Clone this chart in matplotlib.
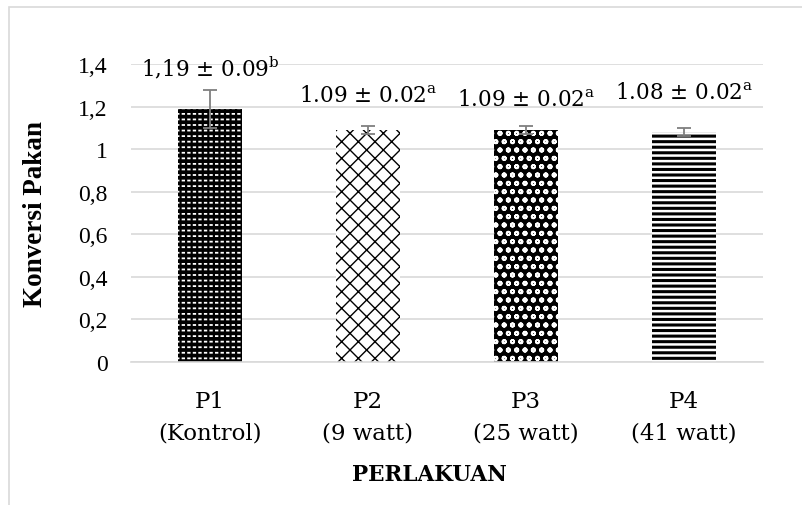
import matplotlib
matplotlib.use('Agg')
import matplotlib.pyplot as plt
from matplotlib.patches import Rectangle

# data
perlakuan = ['P1\n(Kontrol)', 'P2\n(9 watt)', 'P3\n(25 watt)', 'P4\n(41 watt)']
konversi = [1.19, 1.09, 1.09, 1.08]
sd = [0.09, 0.02, 0.02, 0.02]
label_nilai = ['1,19 ± 0.09$^{\\rm b}$', '1.09 ± 0.02$^{\\rm a}$',
               '1.09 ± 0.02$^{\\rm a}$', '1.08 ± 0.02$^{\\rm a}$']
yticks = [0, 0.2, 0.4, 0.6, 0.8, 1.0, 1.2, 1.4]
ytick_labels = ['0', '0,2', '0,4', '0,6', '0,8', '1', '1,2', '1,4']

plt.rcParams['mathtext.fontset'] = 'custom'
plt.rcParams['mathtext.rm'] = 'DejaVu Serif'

fig = plt.figure(figsize=(8.02, 5.06), dpi=100)
ax = fig.add_axes([131 / 802, 1 - 363 / 506, 632 / 802, 298 / 506])

# bingkai abu-abu
fig.patches.append(Rectangle((9 / 802, -0.1), 1.2, 1 - 8 / 506 + 0.1, transform=fig.transFigure,
                             fill=False, edgecolor='#d9d9d9', linewidth=1.2))

x = range(len(perlakuan))
lebar = 0.405

# P1: hitam dengan garis putus putih
with plt.rc_context({'hatch.linewidth': 1.3}):
    ax.bar(0, konversi[0], width=lebar, color='black', edgecolor='white', hatch='---', linewidth=0, zorder=2)
with plt.rc_context({'hatch.linewidth': 1.6}):
    ax.bar(0, konversi[0], width=lebar, color='none', edgecolor='black', hatch='|||', linewidth=0, zorder=2)
# P2: pola sisik
with plt.rc_context({'hatch.linewidth': 1.0}):
    ax.bar(1, konversi[1], width=lebar, color='white', edgecolor='black', hatch='xx', linewidth=0, zorder=2)
# P3: kotak-kotak bulat
with plt.rc_context({'hatch.linewidth': 1.3}):
    ax.bar(2, konversi[2], width=lebar, color='black', edgecolor='white', hatch='oo', linewidth=0, zorder=2)
# P4: garis mendatar
with plt.rc_context({'hatch.linewidth': 2.2}):
    ax.bar(3, konversi[3], width=lebar, color='white', edgecolor='black', hatch='---', linewidth=0, zorder=2)

for i in x:
    ax.errorbar(i, konversi[i], yerr=sd[i], fmt='none', ecolor='#7f7f7f',
                elinewidth=1.3, capsize=5, capthick=1.3, zorder=3)

offset = [0.196, 0.164, 0.145, 0.188]
for i in x:
    ax.text(i, konversi[i] + offset[i], label_nilai[i], ha='center', va='center',
            fontsize=15.5, family='DejaVu Serif')

ax.set_xlim(-0.5, 3.5)
ax.set_ylim(0, 1.4)
ax.set_yticks(yticks)
ax.set_yticklabels(ytick_labels, family='Liberation Serif', fontsize=17)
ax.set_xticks(list(x))
ax.set_xticklabels(perlakuan, family='DejaVu Serif', fontsize=16.5, linespacing=1.55)
ax.tick_params(axis='x', length=0, pad=20)
ax.tick_params(axis='y', length=0, pad=17)
ax.yaxis.grid(True, color='#d9d9d9', linewidth=1.2, zorder=0)
ax.set_axisbelow(True)
for s in ['top', 'right', 'left']:
    ax.spines[s].set_visible(False)
ax.spines['bottom'].set_color('#d9d9d9')
ax.spines['bottom'].set_linewidth(1.2)

ax.set_ylabel('Konversi Pakan', family='Liberation Serif', fontsize=19.5, fontweight='bold')
ax.yaxis.set_label_coords((48 - 131) / 632, 0.5)
fig.text(429 / 802, 1 - 475 / 506, 'PERLAKUAN', ha='center', va='center',
         family='DejaVu Serif', fontsize=15.5, fontweight='bold')

plt.savefig('out.png', dpi=100)
plt.close()
